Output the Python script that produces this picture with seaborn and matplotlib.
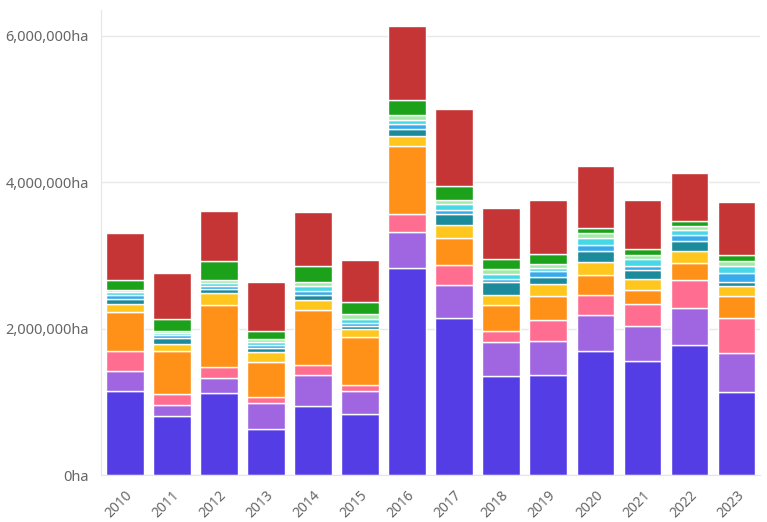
import pandas as pd
import matplotlib
matplotlib.use("Agg")
import matplotlib.pyplot as plt
import seaborn as sns
from matplotlib.ticker import FuncFormatter

# values in million ha, bottom segment first
years = [2010, 2011, 2012, 2013, 2014, 2015, 2016, 2017, 2018, 2019, 2020, 2021, 2022, 2023]
s_purple = [1.15, 0.80, 1.12, 0.63, 0.94, 0.83, 2.83, 2.14, 1.35, 1.36, 1.70, 1.55, 1.77, 1.14]
s_lavender = [0.27, 0.15, 0.20, 0.36, 0.43, 0.32, 0.49, 0.46, 0.47, 0.47, 0.49, 0.49, 0.51, 0.52]
s_pink = [0.27, 0.15, 0.15, 0.08, 0.13, 0.08, 0.24, 0.27, 0.15, 0.29, 0.27, 0.29, 0.38, 0.48]
s_orange = [0.54, 0.60, 0.85, 0.47, 0.75, 0.66, 0.93, 0.37, 0.35, 0.32, 0.27, 0.20, 0.23, 0.30]
s_yellow = [0.10, 0.09, 0.16, 0.14, 0.14, 0.10, 0.14, 0.18, 0.14, 0.17, 0.18, 0.15, 0.17, 0.14]
s_teal = [0.08, 0.08, 0.06, 0.06, 0.07, 0.04, 0.10, 0.15, 0.17, 0.10, 0.15, 0.12, 0.14, 0.06]
s_blue = [0.05, 0.04, 0.04, 0.04, 0.05, 0.05, 0.06, 0.05, 0.05, 0.07, 0.08, 0.06, 0.08, 0.12]
s_cyan = [0.04, 0.03, 0.04, 0.04, 0.07, 0.05, 0.06, 0.08, 0.07, 0.05, 0.10, 0.09, 0.06, 0.10]
s_lightgreen = [0.03, 0.03, 0.04, 0.04, 0.05, 0.07, 0.07, 0.06, 0.06, 0.05, 0.06, 0.05, 0.06, 0.06]
s_green = [0.13, 0.16, 0.26, 0.11, 0.23, 0.16, 0.20, 0.19, 0.14, 0.14, 0.07, 0.08, 0.07, 0.08]
s_red = [0.65, 0.63, 0.68, 0.67, 0.73, 0.58, 1.01, 1.05, 0.69, 0.74, 0.85, 0.67, 0.65, 0.73]

series = {
    "purple": s_purple, "lavender": s_lavender, "pink": s_pink, "orange": s_orange,
    "yellow": s_yellow, "teal": s_teal, "blue": s_blue, "cyan": s_cyan,
    "lightgreen": s_lightgreen, "green": s_green, "red": s_red,
}
colors = {
    "purple": "#553de6", "lavender": "#a066e2", "pink": "#ff6e91", "orange": "#ff9118",
    "yellow": "#ffc61e", "teal": "#1b8a9b", "blue": "#36aaea", "cyan": "#46d8e5",
    "lightgreen": "#a3eaa9", "green": "#1ca11b", "red": "#c63535",
}

rows = []
for name, vals in series.items():
    for y, v in zip(years, vals):
        rows.append({"year": y, "series": name, "area": v * 1e6})
df = pd.DataFrame(rows)

sns.set_style("white")
plt.rcParams['font.family'] = ['Noto Sans', 'DejaVu Sans']

fig = plt.figure(figsize=(7.67, 5.22), dpi=100)
ax = fig.add_axes([0.132, 0.090, 0.859, 0.891])

# seaborn stacks the first hue level on top, so list top-to-bottom
order = list(series.keys())[::-1]
sns.histplot(data=df, x="year", hue="series", weights="area", multiple="stack",
             discrete=True, shrink=0.8, hue_order=order, palette=colors,
             alpha=1, edgecolor="white", linewidth=1.0, legend=False, ax=ax)

ax.set_xlim(years[0] - 0.5, years[-1] + 0.5)
ax.set_ylim(0, 6.35e6)
ax.set_xticks(years)
ax.set_xticklabels([str(y) for y in years], rotation=45, ha="right",
                   rotation_mode="anchor", color="#666666", fontsize=10)
ax.set_yticks([0, 2e6, 4e6, 6e6])
ax.yaxis.set_major_formatter(FuncFormatter(lambda x, pos: '{:,.0f}ha'.format(x)))
ax.tick_params(axis="y", colors="#e0e0e0", labelcolor="#666666", labelsize=10.5,
               length=6, width=1, pad=3)
ax.tick_params(axis="x", colors="#e0e0e0", labelcolor="#666666", length=5, width=1, pad=4)
ax.set_xlabel("")
ax.set_ylabel("")

ax.grid(axis="y", color="#e8e8e8", linewidth=1)
ax.set_axisbelow(True)
for side in ["top", "right"]:
    ax.spines[side].set_visible(False)
ax.spines["left"].set_color("#e6e6e6")
ax.spines["bottom"].set_color("#e6e6e6")

fig.savefig("out.png", dpi=100)
